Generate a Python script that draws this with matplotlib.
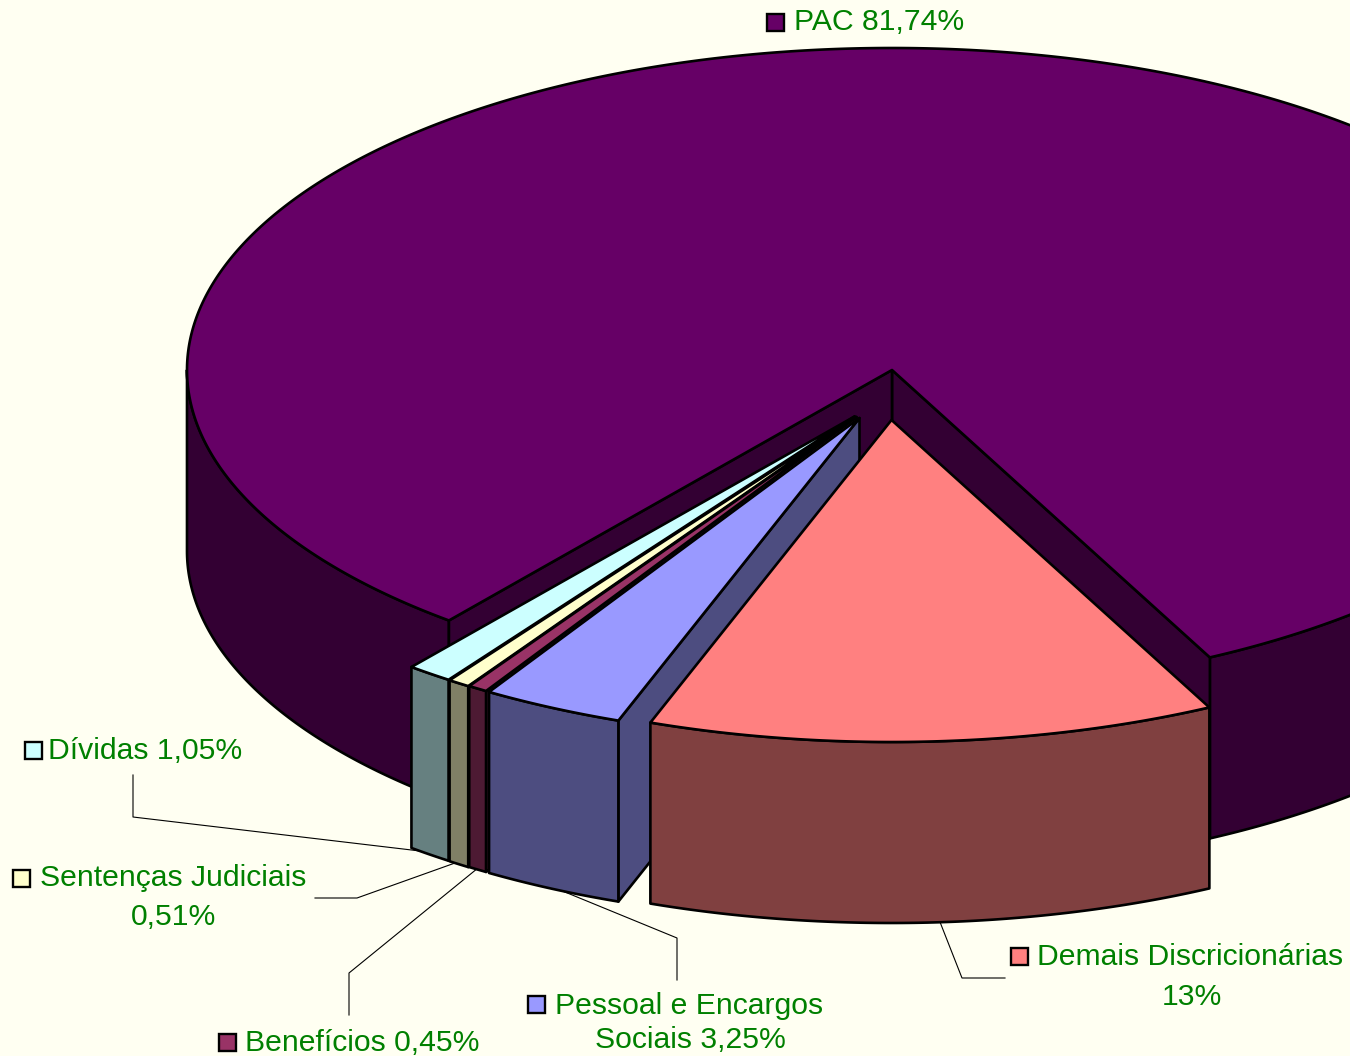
import numpy as np
import matplotlib
matplotlib.use("Agg")
import matplotlib.pyplot as plt
from matplotlib.patches import Polygon, Rectangle

# Data
categories = ["PAC", "Dívidas", "Sentenças Judiciais", "Benefícios",
              "Pessoal e Encargos Sociais", "Demais Discricionárias"]
shares = [81.74, 1.05, 0.51, 0.45, 3.25, 13.0]
label_lines = [["PAC 81,74%"], ["Dívidas 1,05%"], ["Sentenças Judiciais", "0,51%"],
               ["Benefícios 0,45%"], ["Pessoal e Encargos", "Sociais 3,25%"],
               ["Demais Discricionárias", "13%"]]
top_colors = ["#660066", "#CCFFFF", "#FFFFCC", "#993366", "#9999FF", "#FF8080"]
wall_colors = ["#330033", "#668080", "#808066", "#4D1A33", "#4D4D80", "#804040"]

BG = "#FFFFF2"
GREEN = "#008000"
RX, RY, DEPTH = 705.0, 322.0, 181.0
START = 63.2  # degrees below horizontal where PAC starts, going counter-clockwise
apex = {0: (892, 370), 1: (854.5, 416.5), 2: (855.5, 417), 3: (856.5, 417), 4: (859.5, 418), 5: (891.5, 420)}

fig = plt.figure(figsize=(13.5, 10.56), dpi=100, facecolor=BG)
ax = fig.add_axes([0, 0, 1, 1])
ax.set_xlim(0, 1350)
ax.set_ylim(1056, 0)
ax.axis("off")
plt.rcParams["font.family"] = ["Liberation Sans", "DejaVu Sans"]

LW = 1.9


def rim(c, a):
    a = np.radians(a)
    return c[0] + RX * np.cos(a), c[1] - RY * np.sin(a)


def arc(c, a0, a1):
    n = max(2, int(abs(a1 - a0) * 2) + 2)
    t = np.linspace(a0, a1, n)
    return np.column_stack(rim(c, t))


def poly(pts, color, z):
    ax.add_patch(Polygon(pts, closed=True, fc=color, ec="black", lw=LW,
                         joinstyle="round", zorder=z, clip_on=True))


def wall(c, a0, a1, color, z):
    top = arc(c, a0, a1)
    bot = top[::-1] + [0, DEPTH]
    poly(np.vstack([top, bot]), color, z)


def cut_wall(c, a, color, z):
    p = rim(c, a)
    poly([c, p, (p[0], p[1] + DEPTH), (c[0], c[1] + DEPTH)], color, z)


# Angle spans: every slice continues counter-clockwise from the previous one
spans = {}
cur = -START
for i, s in enumerate(shares):
    spans[i] = (cur, cur + s * 3.6)
    cur = spans[i][1]

z = 1
# PAC
c = apex[0]
a0, a1 = spans[0]
wall(c, a0, 0, wall_colors[0], z); z += 1
wall(c, 180, a1, wall_colors[0], z); z += 1
cut_wall(c, a0, wall_colors[0], z); z += 1
cut_wall(c, a1, wall_colors[0], z); z += 1
poly(np.vstack([[c], arc(c, a0, a1)]), top_colors[0], z); z += 1

# Exploded slices, left to right
for i in range(1, 6):
    c = apex[i]
    a0, a1 = spans[i]
    if i < 5:
        cut_wall(c, a1, wall_colors[i], z); z += 1
    wall(c, a0, a1, wall_colors[i], z); z += 1
    poly(np.vstack([[c], arc(c, a0, a1)]), top_colors[i], z); z += 1

# Leader lines
leaders = [
    [(133, 775), (133, 817), (420, 851)],
    [(315, 898), (357, 898), (455, 863)],
    [(349, 1015), (349, 973), (478, 868)],
    [(677, 980), (677, 938), (560, 890)],
    [(1005, 978), (962, 978), (940, 922)],
]
for pts in leaders:
    xs, ys = zip(*pts)
    ax.plot(xs, ys, color="black", lw=0.8, zorder=0.5)

# Labels: (key x, key y, text centre x per line, y per line)
label_pos = {0: (767, 14, [879.5], [22]),
             1: (25, 742, [145], [751]),
             2: (13, 870, [173, 174], [878, 917]),
             3: (219, 1034, [362], [1043]),
             4: (528, 996, [689, 690], [1006, 1040.5]),
             5: (1011, 948, [1190, 1192], [957, 997])}
FS = 21.7
for i, lines in enumerate(label_lines):
    kx, ky, txs, tys = label_pos[i]
    ax.add_patch(Rectangle((kx, ky), 17, 17, fc=top_colors[i], ec="black", lw=1.7, zorder=50))
    for line, tx, ty in zip(lines, txs, tys):
        ax.text(tx, ty, line, color=GREEN, fontsize=FS, ha="center", va="center", zorder=51)

fig.savefig("out.png", dpi=100, facecolor=BG)
